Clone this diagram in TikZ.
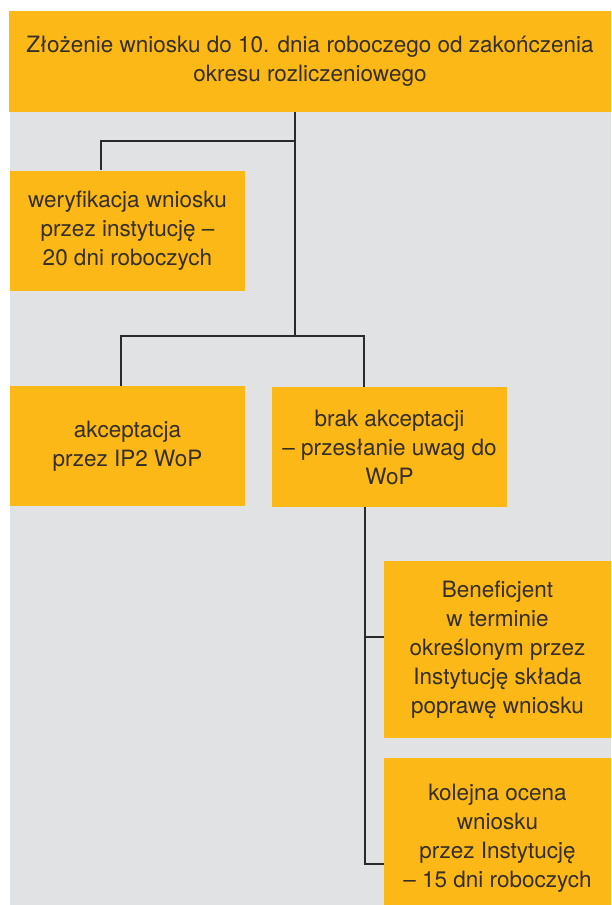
\documentclass[tikz,border=0pt]{standalone}
\usepackage{fontspec}
\setmainfont{TeX Gyre Heros}
\definecolor{boxyellow}{HTML}{FBB817}
\definecolor{panelgray}{HTML}{E1E2E4}
\definecolor{txtgray}{HTML}{352F28}
\definecolor{linegray}{HTML}{2A2A2A}
\begin{document}
\begin{tikzpicture}[x=1pt,y=-1pt,
  box/.style={fill=boxyellow,draw=none,inner sep=0pt,align=center,text=txtgray,
    font=\fontsize{22.5}{29}\selectfont},
  conn/.style={draw=linegray,line width=2.6pt}]
\useasboundingbox (0,0) rectangle (611,905);
\fill[white] (0,0) rectangle (611,905);
\fill[panelgray] (10,112) rectangle (611,905);
\node[box,minimum width=602pt,minimum height=101pt] (top) at (310,61.5)
  {Złożenie wniosku do 10. dnia roboczego od zakończenia\\okresu rozliczeniowego};
\node[box,minimum width=235pt,minimum height=120pt] (wer) at (127.5,230.5)
  {weryfikacja wniosku\\przez instytucję –\\20 dni roboczych};
\node[box,minimum width=235pt,minimum height=120pt] (akc) at (127.5,446)
  {akceptacja\\przez IP2 WoP};
\node[box,minimum width=235pt,minimum height=120pt] (brak) at (389.5,447)
  {brak akceptacji\\– przesłanie uwag do\\WoP};
\node[box,minimum width=227pt,minimum height=177pt] (ben) at (497.5,649.5)
  {Beneficjent\\w terminie\\określonym przez\\Instytucję składa\\poprawę wniosku};
\node[box,minimum width=227pt,minimum height=147pt] (kol) at (497.5,831.5)
  {\rule{0pt}{29pt}kolejna ocena\\wniosku\\przez Instytucję\\– 15 dni roboczych};
\coordinate (j1) at (295,141);
\coordinate (j2) at (295,336);
\coordinate (j3) at (365,637);
\coordinate (j4) at (365,864);
\draw[conn] (top.south -| j1) -- (j2);
\draw[conn] (j1) -| ([xshift=-26.5pt]wer.north);
\draw[conn] ([xshift=-6.5pt]akc.north) |- ([xshift=-25.5pt]brak.north |- j2) -- ([xshift=-25.5pt]brak.north);
\draw[conn] ([xshift=-24.5pt]brak.south) -- (j4) -- (j4 -| kol.west);
\draw[conn] (j3) -- (j3 -| ben.west);
\end{tikzpicture}
\end{document}
